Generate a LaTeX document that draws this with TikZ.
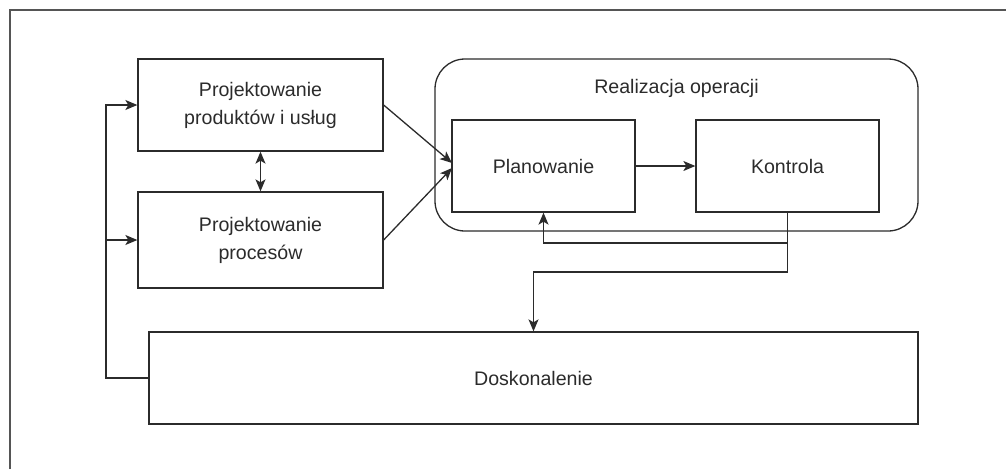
\documentclass[tikz,border=0pt]{standalone}
\usepackage{fontspec}
\setmainfont{Liberation Sans}
\usetikzlibrary{arrows.meta}
\definecolor{ink}{HTML}{2b2b2b}
\begin{document}
\begin{tikzpicture}[x=1pt,y=-1pt,
  line width=1.3pt, draw=ink, text=ink,
  font=\fontsize{19.6}{28}\selectfont,
  box/.style={draw=ink, rectangle, inner sep=0pt, align=center},
  arr/.style={-{Stealth[length=12pt,width=10pt,inset=3pt]}},
  darr/.style={{Stealth[length=12pt,width=10pt,inset=3pt]}-{Stealth[length=12pt,width=10pt,inset=3pt]}}]
\useasboundingbox (0,0) rectangle (1006,469);
% outer frame (only top and left visible)
\draw[line width=1.5pt, draw=ink!80] (10,469) -- (10,10) -- (1006,10);
% rounded group
\node[draw=ink, rounded corners=30pt, minimum width=483pt, minimum height=172pt, inner sep=0pt] (grp) at (676.5,145) {};
\node (grplabel) at (676.5,88) {Realizacja operacji};
% boxes
\node[box, minimum width=245pt, minimum height=92pt] (b1) at (260.5,105) {Projektowanie\\produktów i usług};
\node[box, minimum width=245pt, minimum height=96pt] (b2) at (260.5,240) {Projektowanie\\procesów};
\node[box, minimum width=183pt, minimum height=92pt] (plan) at (543.5,166) {Planowanie};
\node[box, minimum width=183pt, minimum height=92pt] (kon) at (787.5,166) {Kontrola};
\node[box, minimum width=769pt, minimum height=92pt] (dosk) at (533.5,378) {Doskonalenie};
% coordinates
\coordinate (p1) at (452,163);
\coordinate (p2) at (452,168);
\coordinate (fbL) at (106,378);
\coordinate (fbT) at (106,105);
\coordinate (fbM) at (106,240);
\coordinate (kA) at (787.5,243);
\coordinate (kB) at (787.5,272);
\coordinate (kA2) at (543.5,243);
\coordinate (kB2) at (533.5,272);
% connectors
\draw[arr] (b1.east) -- (p1);
\draw[arr] (b2.east) -- (p2);
\draw[darr] (b1.south) -- (b2.north);
\draw[arr] (plan.east) -- (kon.west);
\draw[arr] (dosk.west) -- (fbL) -- (fbT) -- (b1.west);
\draw[arr] (fbM) -- (b2.west);
\draw[arr] (kon.south) -- (kA) -- (kA2) -- (plan.south);
\draw[arr] (kA) -- (kB) -- (kB2) -- (dosk.north);
\end{tikzpicture}
\end{document}
